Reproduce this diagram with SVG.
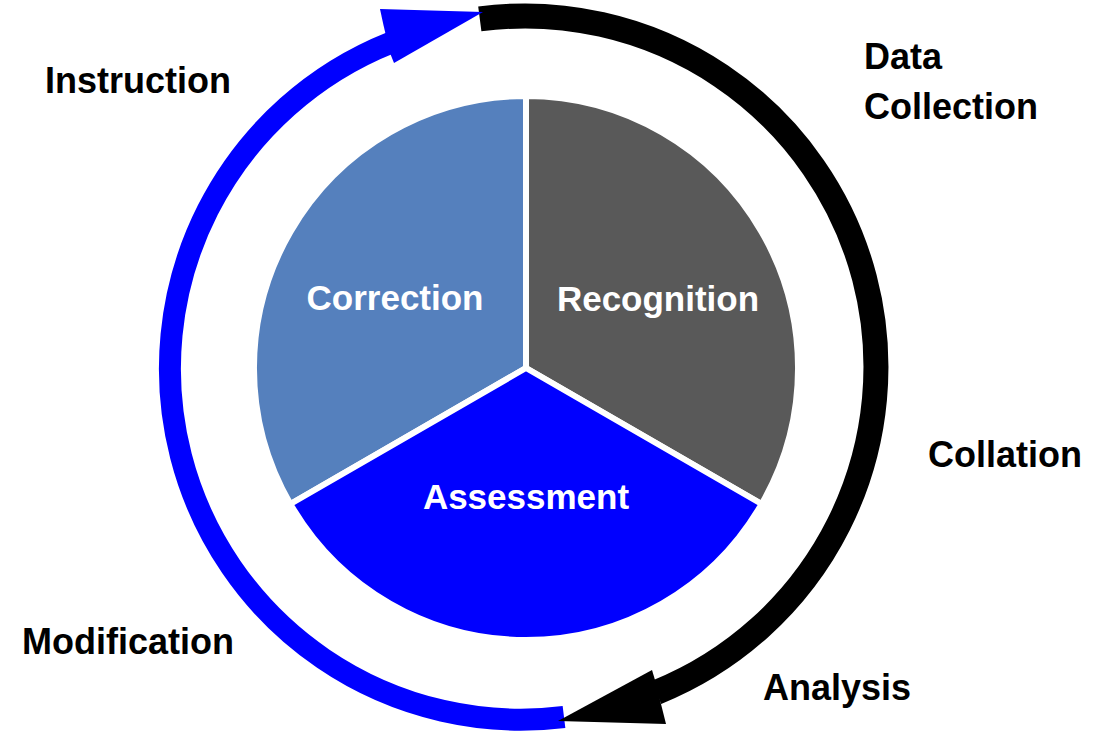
<svg xmlns="http://www.w3.org/2000/svg" width="1107" height="731" viewBox="0 0 1107 731">
  <style>
    .lbl { font-family: "Liberation Sans", Arial, sans-serif; font-weight: bold; font-size: 36px; fill: #000; }
    .in { font-family: "Liberation Sans", Arial, sans-serif; font-weight: bold; font-size: 35px; fill: #fff; text-anchor: middle; }
    .sec { stroke: #fff; stroke-width: 6; stroke-linejoin: miter; }
    .ring { fill: none; stroke-linecap: butt; }
  </style>
  <rect width="1107" height="731" fill="#fff"/>
  <g id="connectors">
    <path class="ring" d="M479.8,18.9 A351,351 0 0 1 656.5,692.4" stroke="#000" stroke-width="25"/>
    <path class="ring" d="M564,717 A351,351 0 0 1 390.7,42.7" stroke="#0000ff" stroke-width="22"/>
    <polygon points="380,9 483,12 394,63 390,53 383,23" fill="#0000ff"/>
    <polygon points="558,721 652,670 655,680 662,708 666,724" fill="#000"/>
  </g>
  <g id="node-correction">
    <path class="sec" d="M526,368 L290.4,504 A272,272 0 0 1 526,96 Z" fill="#5580bd"/>
    <text class="in" x="395" y="310">Correction</text>
  </g>
  <g id="node-recognition">
    <path class="sec" d="M526,368 L526,96 A272,272 0 0 1 761.6,504 Z" fill="#595959"/>
    <text class="in" x="658" y="311">Recognition</text>
  </g>
  <g id="node-assessment">
    <path class="sec" d="M526,368 L761.6,504 A272,272 0 0 1 290.4,504 Z" fill="#0000ff"/>
    <text class="in" x="526" y="509">Assessment</text>
  </g>
  <g id="labels">
    <text class="lbl" x="45" y="93">Instruction</text>
    <text class="lbl" x="864" y="69">Data</text>
    <text class="lbl" x="864" y="119">Collection</text>
    <text class="lbl" x="928" y="467">Collation</text>
    <text class="lbl" x="22" y="654">Modification</text>
    <text class="lbl" x="763" y="700">Analysis</text>
  </g>
</svg>
